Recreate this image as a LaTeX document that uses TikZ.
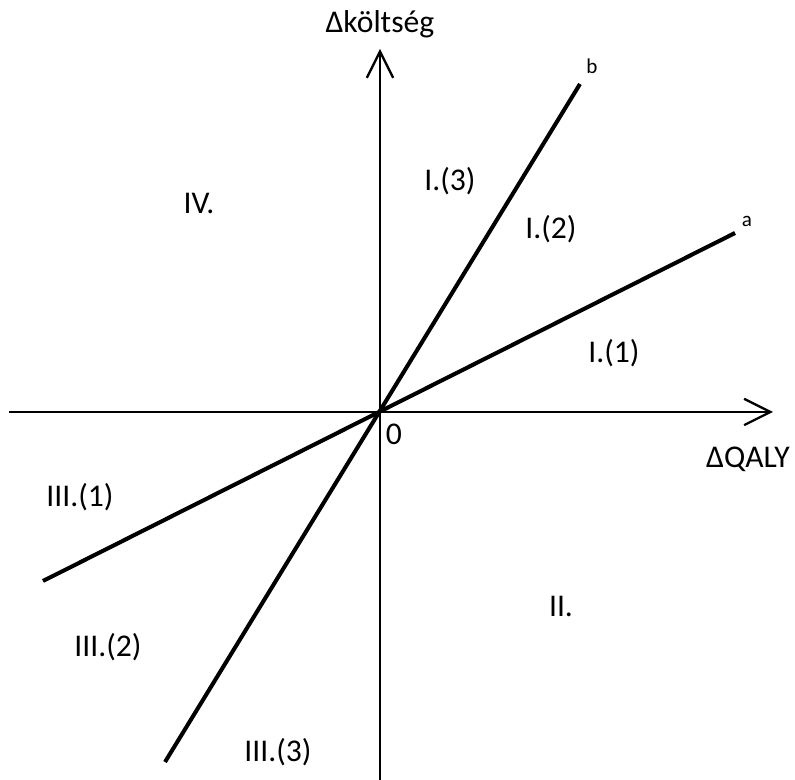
\documentclass[tikz,border=0pt]{standalone}
\usepackage{fontspec}
\setmainfont{Carlito}
\usetikzlibrary{arrows.meta}

\tikzset{
    axis/.style={line width=1.3pt, -{Straight Barb[length=15pt, width=15pt, line width=1.3pt]}},
    ratio/.style={line width=2.3pt},
    region/.style={font=\fontsize{18}{21}\selectfont},
    endlabel/.style={font=\fontsize{12}{14}\selectfont}
}

\begin{document}
\begin{tikzpicture}
        \useasboundingbox (-7.6,-7.36) rectangle (8.3,8.24);

        \coordinate (o) at (0,0);
        \coordinate (xl) at (-7.42,0);
        \coordinate (xr) at (7.86,0);
        \coordinate (yb) at (0,-7.4);
        \coordinate (yt) at (0,7.26);
        \coordinate (alow) at (-6.74,-3.38);
        \coordinate (ahigh) at (7.10,3.58);
        \coordinate (blow) at (-4.30,-7.00);
        \coordinate (bhigh) at (4.00,6.56);

        \draw[axis] (xl) -- (xr);
        \draw[axis] (yb) -- (yt);
        \draw[ratio] (alow) -- (ahigh);
        \draw[ratio] (blow) -- (bhigh);

        \node[region] (ylabel) at (0,7.76) {Δköltség};
        \node[region] (xlabel) at (7.36,-0.94) {ΔQALY};
        \node[region] (zero) at (0.28,-0.44) {0};
        \node[endlabel] (blabel) at (4.24,6.92) {b};
        \node[endlabel] (alabel) at (7.34,3.82) {a};

        \node[region] (IV) at (-3.62,4.18) {IV.};
        \node[region] (I3) at (1.40,4.62) {I.(3)};
        \node[region] (I2) at (3.42,3.66) {I.(2)};
        \node[region] (I1) at (4.68,1.18) {I.(1)};
        \node[region] (II) at (3.62,-3.88) {II.};
        \node[region] (III1) at (-6.00,-1.70) {III.(1)};
        \node[region] (III2) at (-5.44,-4.70) {III.(2)};
        \node[region] (III3) at (-2.04,-6.80) {III.(3)};
    \end{tikzpicture}
\end{document}
